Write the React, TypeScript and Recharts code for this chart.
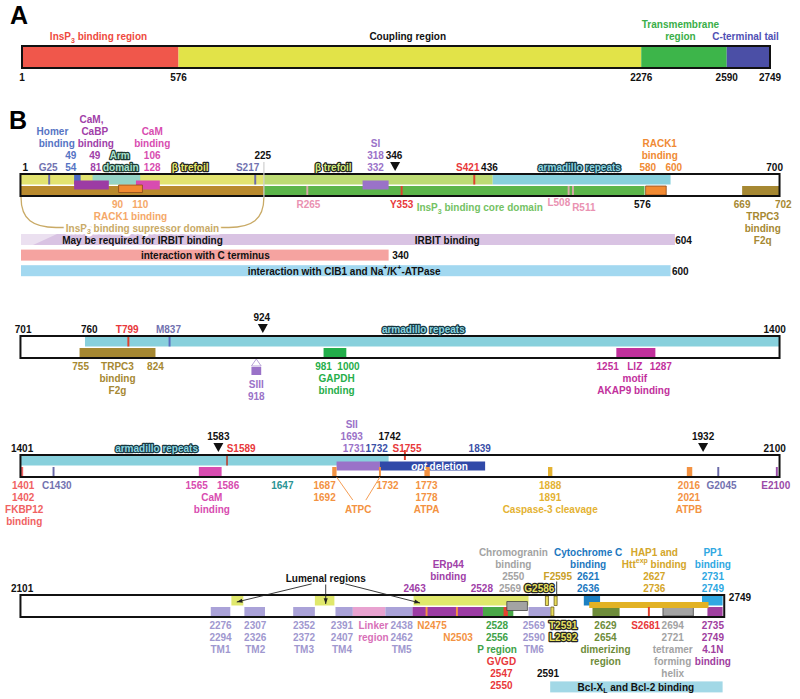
import React from "react";
import {
  ComposedChart,
  XAxis,
  YAxis,
  Scatter,
  ReferenceArea,
  ReferenceLine,
} from "recharts";

const W = 800;
const H = 699;
const FONT = "'Liberation Sans', Arial, Helvetica, sans-serif";

// ---------- panel A: overview, residue numbers ----------
const panelASegments = [
  { from: 1, to: 576, kind: "aInsp3" },
  { from: 576, to: 2276, kind: "aCoupling" },
  { from: 2276, to: 2590, kind: "aTm" },
  { from: 2590, to: 2749, kind: "aCterm" },
];
const panelATicks = ["1", "576", "2276", "2590", "2749"];
const panelALabels = [
  { t: "InsP_{3} binding region", at: 282, line: -1.2, k: "aRed" },
  { t: "Coupling region", at: 1418, line: -1.2, k: "black" },
  { t: "Transmembrane", at: 2420, line: -2.2, k: "aGreen" },
  { t: "region", at: 2420, line: -1.2, k: "aGreen" },
  { t: "C-terminal tail", at: 2659, line: -1.2, k: "aBlue" },
];

// ---------- panel B: four rows of the sequence ----------
const rowRanges = [
  { id: "r1", start: 1, end: 700 },
  { id: "r2", start: 701, end: 1400 },
  { id: "r3", start: 1401, end: 2100 },
  { id: "r4", start: 2101, end: 2749 },
];

const row1Blocks = [
  { from: 1, to: 225, track: "up", kind: "trefoil1" },
  { from: 225, to: 436, track: "up", kind: "trefoil2" },
  { from: 436, to: 600, track: "up", kind: "armadillo" },
  { from: 67, to: 111, track: "up", kind: "arm" },
  { from: 50, to: 56, track: "up", kind: "homer" },
  { from: 1, to: 225, track: "low", kind: "suppressor" },
  { from: 225, to: 576, track: "low", kind: "core" },
  { from: 577, to: 596, track: "low", kind: "rack" },
  { from: 666, to: 700, track: "low", kind: "trpc" },
  { from: 50, to: 82, track: "mid", kind: "cabp" },
  { from: 107, to: 129, track: "mid", kind: "cam" },
  { from: 316, to: 340, track: "mid", kind: "si" },
  { from: 91, to: 113, track: "midlow", kind: "rack" },
];
const row1Sites = [
  { at: 27, track: "up", kind: "site" },
  { at: 217, track: "up", kind: "site" },
  { at: 419, track: "up", kind: "phospho" },
  { at: 265, track: "low", kind: "pinkTick" },
  { at: 352, track: "low", kind: "phospho" },
  { at: 506, track: "low", kind: "pinkTick" },
  { at: 510, track: "low", kind: "pinkTick" },
];
const row1Bands = [
  { from: 1, to: 604, line: 4, kind: "irbit" },
  { from: 1, to: 340, line: 5.3, kind: "cterm" },
  { from: 1, to: 600, line: 6.6, kind: "cib" },
];
const row1Brackets = [{ from: 1, to: 225, line: 3 }];
const row1Labels = [
  { t: "1", at: 5, line: -1, k: "black" },
  { t: "G25", at: 26, line: -1, k: "site" },
  { t: "Homer", at: 30, line: -4, k: "homer" },
  { t: "binding", at: 34, line: -3, k: "homer" },
  { t: "49", at: 47, line: -2, k: "homer" },
  { t: "54", at: 47, line: -1, k: "homer" },
  { t: "CaM,", at: 66, line: -5, k: "cabp" },
  { t: "CaBP", at: 69, line: -4, k: "cabp" },
  { t: "binding", at: 70, line: -3, k: "cabp" },
  { t: "49", at: 69, line: -2, k: "cabp" },
  { t: "81", at: 70, line: -1, k: "cabp" },
  { t: "Arm", at: 92, line: -2, k: "olArm" },
  { t: "domain", at: 93, line: -1, k: "olArm" },
  { t: "CaM", at: 122, line: -4, k: "cam" },
  { t: "binding", at: 122, line: -3, k: "cam" },
  { t: "106", at: 122, line: -2, k: "cam" },
  { t: "128", at: 122, line: -1, k: "cam" },
  { t: "β trefoil", at: 157, line: -1, k: "olTrefoil" },
  { t: "S217", at: 210, line: -1, k: "site" },
  { t: "225", at: 224, line: -2, k: "black" },
  { t: "β trefoil", at: 289, line: -1, k: "olTrefoil2" },
  { t: "SI", at: 328, line: -3, k: "si" },
  { t: "318", at: 328, line: -2, k: "si" },
  { t: "332", at: 328, line: -1, k: "si" },
  { t: "346", at: 345, line: -2, k: "black" },
  { t: "S421", at: 413, line: -1, k: "red" },
  { t: "436", at: 433, line: -1, k: "black" },
  { t: "armadillo repeats", at: 516, line: -1, k: "olCyan" },
  { t: "RACK1", at: 590, line: -3, k: "rack" },
  { t: "binding", at: 590, line: -2, k: "rack" },
  { t: "580", at: 579, line: -1, k: "rack" },
  { t: "600", at: 603, line: -1, k: "rack" },
  { t: "700", at: 696, line: -1, k: "black" },
  { t: "90", at: 90, line: 1, k: "rackLight" },
  { t: "110", at: 111, line: 1, k: "rackLight" },
  { t: "RACK1 binding", at: 102, line: 2, k: "rackLight" },
  { t: "InsP_{3} binding supressor domain", at: 113, line: 3, k: "tan" },
  { t: "R265", at: 266, line: 1, k: "pink" },
  { t: "Y353", at: 352, line: 1, k: "red" },
  { t: "InsP_{3} binding core domain", at: 424, line: 1.3, k: "core" },
  { t: "L508", at: 497, line: 0.9, k: "pink" },
  { t: "R511", at: 520, line: 1.3, k: "pink" },
  { t: "576", at: 574, line: 1, k: "black" },
  { t: "669", at: 666, line: 1, k: "trpc" },
  { t: "702", at: 704, line: 1, k: "trpc" },
  { t: "TRPC3", at: 685, line: 2, k: "trpc" },
  { t: "binding", at: 685, line: 3, k: "trpc" },
  { t: "F2q", at: 685, line: 4, k: "trpc" },
  { t: "May be required for IRBIT binding", at: 113, line: 4, k: "black" },
  { t: "IRBIT binding", at: 394, line: 4, k: "black" },
  { t: "604", at: 612, line: 4, k: "black" },
  { t: "interaction with C terminus", at: 171, line: 5.3, k: "black" },
  { t: "340", at: 351, line: 5.3, k: "black" },
  { t: "interaction with CIB1 and Na^{+}/K^{+}-ATPase", at: 299, line: 6.6, k: "black" },
  { t: "600", at: 609, line: 6.6, k: "black" },
];

const row2Blocks = [
  { from: 760, to: 1400, track: "up", kind: "armadillo" },
  { from: 755, to: 825, track: "low", kind: "trpc" },
  { from: 980, to: 1001, track: "low", kind: "gapdh" },
  { from: 1250, to: 1286, track: "low", kind: "liz" },
];
const row2Sites = [
  { at: 800, track: "up", kind: "phospho" },
  { at: 838, track: "up", kind: "siteBlue" },
  { at: 918, track: "pin", kind: "si" },
];
const row2Labels = [
  { t: "701", at: 703, line: -1, k: "black" },
  { t: "760", at: 764, line: -1, k: "black" },
  { t: "T799", at: 799, line: -1, k: "red" },
  { t: "M837", at: 837, line: -1, k: "site" },
  { t: "924", at: 923, line: -2, k: "black" },
  { t: "armadillo repeats", at: 1072, line: -1, k: "olCyan" },
  { t: "1400", at: 1396, line: -1, k: "black" },
  { t: "755", at: 756, line: 1, k: "trpc" },
  { t: "TRPC3", at: 790, line: 1, k: "trpc" },
  { t: "824", at: 825, line: 1, k: "trpc" },
  { t: "binding", at: 790, line: 2, k: "trpc" },
  { t: "F2g", at: 790, line: 3, k: "trpc" },
  { t: "SIII", at: 918, line: 2.5, k: "si" },
  { t: "918", at: 918, line: 3.5, k: "si" },
  { t: "981", at: 980, line: 1, k: "gapdh" },
  { t: "1000", at: 1003, line: 1, k: "gapdh" },
  { t: "GAPDH", at: 992, line: 2, k: "gapdh" },
  { t: "binding", at: 992, line: 3, k: "gapdh" },
  { t: "1251", at: 1242, line: 1, k: "liz" },
  { t: "LIZ", at: 1267, line: 1, k: "liz" },
  { t: "1287", at: 1291, line: 1, k: "liz" },
  { t: "motif", at: 1267, line: 2, k: "liz" },
  { t: "AKAP9 binding", at: 1266, line: 3, k: "liz" },
];

const row3Blocks = [
  { from: 1401, to: 1740, track: "up", kind: "armadillo" },
  { from: 1692, to: 1732, track: "mid", kind: "sii" },
  { from: 1732, to: 1829, track: "mid", kind: "opt" },
  { from: 1401, to: 1403, track: "low", kind: "fkbp" },
  { from: 1565, to: 1586, track: "low", kind: "cam" },
  { from: 1688, to: 1692, track: "low", kind: "atp" },
  { from: 1773, to: 1778, track: "low", kind: "atp" },
  { from: 1887, to: 1891, track: "low", kind: "casp" },
  { from: 2015, to: 2020, track: "low", kind: "atp" },
];
const row3Sites = [
  { at: 1591, track: "up", kind: "phosphoDark" },
  { at: 1755, track: "top", kind: "phospho" },
  { at: 1431, track: "low", kind: "site" },
  { at: 1732, track: "low", kind: "atp" },
  { at: 2044, track: "low", kind: "site" },
  { at: 2098, track: "low", kind: "e2100" },
];
const row3Labels = [
  { t: "1401", at: 1402, line: -1, k: "black" },
  { t: "armadillo repeats", at: 1526, line: -1, k: "olCyan" },
  { t: "1583", at: 1583, line: -2, k: "black" },
  { t: "S1589", at: 1604, line: -1, k: "red" },
  { t: "SII", at: 1706, line: -3, k: "si" },
  { t: "1693", at: 1706, line: -2, k: "si" },
  { t: "1731", at: 1708, line: -1, k: "si" },
  { t: "1732", at: 1729, line: -1, k: "optBlue" },
  { t: "1742", at: 1741, line: -2, k: "black" },
  { t: "S1755", at: 1757, line: -1, k: "red" },
  { t: "1839", at: 1824, line: -1, k: "optBlue" },
  { t: "1932", at: 2030, line: -2, k: "black" },
  { t: "2100", at: 2096, line: -1, k: "black" },
  { t: "~{opt} deletion", at: 1787, line: 0, k: "white" },
  { t: "1401", at: 1403, line: 1, k: "fkbp" },
  { t: "1402", at: 1403, line: 2, k: "fkbp" },
  { t: "FKBP12", at: 1404, line: 3, k: "fkbp" },
  { t: "binding", at: 1404, line: 4, k: "fkbp" },
  { t: "C1430", at: 1434, line: 1, k: "site" },
  { t: "1565", at: 1563, line: 1, k: "cam" },
  { t: "1586", at: 1592, line: 1, k: "cam" },
  { t: "CaM", at: 1577, line: 2, k: "cam" },
  { t: "binding", at: 1577, line: 3, k: "cam" },
  { t: "1647", at: 1642, line: 1, k: "teal" },
  { t: "1687", at: 1681, line: 1, k: "atp" },
  { t: "1692", at: 1681, line: 2, k: "atp" },
  { t: "1732", at: 1739, line: 1, k: "atp" },
  { t: "ATPC", at: 1712, line: 3, k: "atp" },
  { t: "1773", at: 1775, line: 1, k: "atp" },
  { t: "1778", at: 1775, line: 2, k: "atp" },
  { t: "ATPA", at: 1775, line: 3, k: "atp" },
  { t: "1888", at: 1889, line: 1, k: "casp" },
  { t: "1891", at: 1889, line: 2, k: "casp" },
  { t: "Caspase-3 cleavage", at: 1889, line: 3, k: "casp" },
  { t: "2016", at: 2017, line: 1, k: "atp" },
  { t: "2021", at: 2017, line: 2, k: "atp" },
  { t: "ATPB", at: 2017, line: 3, k: "atp" },
  { t: "G2045", at: 2047, line: 1, k: "site" },
  { t: "E2100", at: 2097, line: 1, k: "e2100" },
];

const row4Blocks = [
  { from: 2295, to: 2306, track: "up", kind: "lumen" },
  { from: 2372, to: 2390, track: "up", kind: "lumen" },
  { from: 2463, to: 2569, track: "up", kind: "lumen" },
  { from: 2276, to: 2294, track: "low", kind: "tm" },
  { from: 2307, to: 2326, track: "low", kind: "tm" },
  { from: 2352, to: 2372, track: "low", kind: "tm" },
  { from: 2391, to: 2407, track: "low", kind: "tm" },
  { from: 2407, to: 2437, track: "low", kind: "linker" },
  { from: 2437, to: 2462, track: "low", kind: "tm" },
  { from: 2462, to: 2527, track: "low", kind: "erp" },
  { from: 2527, to: 2555, track: "low", kind: "preg" },
  { from: 2546, to: 2550, track: "low", kind: "gvgd" },
  { from: 2569, to: 2589, track: "low", kind: "tm" },
  { from: 2620, to: 2635, track: "up", kind: "cytc" },
  { from: 2729, to: 2748, track: "up", kind: "pp1" },
  { from: 2628, to: 2653, track: "low", kind: "dimer" },
  { from: 2693, to: 2721, track: "low", kind: "tetramer" },
  { from: 2734, to: 2748, track: "low", kind: "n41" },
  { from: 2625, to: 2735, track: "band", kind: "hap" },
  { from: 2549, to: 2568, track: "mid", kind: "chromo" },
];
const row4Sites = [
  { at: 2475, track: "low", kind: "atp" },
  { at: 2503, track: "low", kind: "atp" },
  { at: 2680, track: "low", kind: "phospho" },
  { at: 2586, track: "up", kind: "yellowTick" },
  { at: 2594, track: "up", kind: "yellowTick" },
  { at: 2591, track: "low", kind: "yellowTick" },
];
const row4Bands = [{ from: 2589, to: 2748, line: 6.2, kind: "bcl" }];
const row4Labels = [
  { t: "2101", at: 2102, line: -1, k: "black" },
  { t: "Lumenal regions", at: 2382, line: -1.8, k: "black" },
  { t: "ERp44", at: 2495, line: -3, k: "erp" },
  { t: "binding", at: 2495, line: -2, k: "erp" },
  { t: "2463", at: 2464, line: -1, k: "erp" },
  { t: "2528", at: 2526, line: -1, k: "erp" },
  { t: "Chromogranin", at: 2555, line: -4, k: "chromo" },
  { t: "binding", at: 2555, line: -3, k: "chromo" },
  { t: "2550", at: 2555, line: -2, k: "chromo" },
  { t: "2569", at: 2552, line: -1, k: "chromo" },
  { t: "G2586", at: 2579, line: -1, k: "olYellow" },
  { t: "F2595", at: 2596, line: -2, k: "gold" },
  { t: "Cytochrome C", at: 2624, line: -4, k: "cytc" },
  { t: "binding", at: 2624, line: -3, k: "cytc" },
  { t: "2621", at: 2624, line: -2, k: "cytc" },
  { t: "2636", at: 2624, line: -1, k: "cytc" },
  { t: "HAP1 and", at: 2685, line: -4, k: "hap" },
  { t: "Htt^{exp} binding", at: 2685, line: -3, k: "hap" },
  { t: "2627", at: 2685, line: -2, k: "hap" },
  { t: "2736", at: 2685, line: -1, k: "hap" },
  { t: "PP1", at: 2739, line: -4, k: "pp1" },
  { t: "binding", at: 2739, line: -3, k: "pp1" },
  { t: "2731", at: 2739, line: -2, k: "pp1" },
  { t: "2749", at: 2739, line: -1, k: "pp1" },
  { t: "2749", at: 2764, line: -0.2, k: "black" },
  { t: "2276", at: 2285, line: 1, k: "tm" },
  { t: "2294", at: 2285, line: 2, k: "tm" },
  { t: "TM1", at: 2285, line: 3, k: "tm" },
  { t: "2307", at: 2317, line: 1, k: "tm" },
  { t: "2326", at: 2317, line: 2, k: "tm" },
  { t: "TM2", at: 2317, line: 3, k: "tm" },
  { t: "2352", at: 2362, line: 1, k: "tm" },
  { t: "2372", at: 2362, line: 2, k: "tm" },
  { t: "TM3", at: 2362, line: 3, k: "tm" },
  { t: "2391", at: 2397, line: 1, k: "tm" },
  { t: "2407", at: 2397, line: 2, k: "tm" },
  { t: "TM4", at: 2397, line: 3, k: "tm" },
  { t: "Linker", at: 2426, line: 1, k: "linker" },
  { t: "region", at: 2426, line: 2, k: "linker" },
  { t: "2438", at: 2452, line: 1, k: "tm" },
  { t: "2462", at: 2452, line: 2, k: "tm" },
  { t: "TM5", at: 2452, line: 3, k: "tm" },
  { t: "N2475", at: 2480, line: 1, k: "atp" },
  { t: "N2503", at: 2504, line: 2, k: "atp" },
  { t: "2528", at: 2540, line: 1, k: "preg" },
  { t: "2556", at: 2540, line: 2, k: "preg" },
  { t: "P region", at: 2540, line: 3, k: "preg" },
  { t: "GVGD", at: 2544, line: 4, k: "red" },
  { t: "2547", at: 2544, line: 5, k: "red" },
  { t: "2550", at: 2544, line: 6, k: "red" },
  { t: "2569", at: 2574, line: 1, k: "tm" },
  { t: "2590", at: 2574, line: 2, k: "tm" },
  { t: "TM6", at: 2574, line: 3, k: "tm" },
  { t: "T2591", at: 2601, line: 1, k: "olYellow" },
  { t: "L2592", at: 2601, line: 2, k: "olYellow" },
  { t: "2629", at: 2640, line: 1, k: "dimer" },
  { t: "2654", at: 2640, line: 2, k: "dimer" },
  { t: "dimerizing", at: 2640, line: 3, k: "dimer" },
  { t: "region", at: 2640, line: 4, k: "dimer" },
  { t: "S2681", at: 2677, line: 1, k: "red" },
  { t: "2694", at: 2702, line: 1, k: "chromo" },
  { t: "2721", at: 2702, line: 2, k: "chromo" },
  { t: "tetramer", at: 2702, line: 3, k: "chromo" },
  { t: "forming", at: 2702, line: 4, k: "chromo" },
  { t: "helix", at: 2702, line: 5, k: "chromo" },
  { t: "2735", at: 2739, line: 1, k: "n41" },
  { t: "2749", at: 2739, line: 2, k: "n41" },
  { t: "4.1N", at: 2739, line: 3, k: "n41" },
  { t: "binding", at: 2739, line: 4, k: "n41" },
  { t: "2591", at: 2587, line: 5, k: "black" },
  { t: "Bcl-X_{L} and Bcl-2 binding", at: 2668, line: 6.2, k: "black" },
];

// downward arrowheads (drawn where the picture has them)
const markers = [
  { row: "r1", at: 346 },
  { row: "r2", at: 924 },
  { row: "r3", at: 1583 },
  { row: "r3", at: 2030 },
];
// lines: l = text line, b = offset from bar top
const connectors = [
  { row: "r1", x1: 225, b1: -12, x2: 225, b2: 24, kind: "sep" },
  { row: "r3", x1: 1692, b1: 22, x2: 1707, l2: 2.3, kind: "atp" },
  { row: "r3", x1: 1732, b1: 22, x2: 1719, l2: 2.3, kind: "atp" },
  { row: "r4", x1: 2369, l1: -1.3, x2: 2300, b2: 7, kind: "arrow" },
  { row: "r4", x1: 2382, l1: -1.25, x2: 2382, b2: 9, kind: "arrow" },
  { row: "r4", x1: 2400, l1: -1.3, x2: 2469, b2: 8, kind: "arrow" },
  { row: "r4", x1: 2595, l1: -1.5, x2: 2595, b2: 1, kind: "plain" },
];

// ---------- styling ----------
const FILL: Record<string, string> = {
  aInsp3: "#f0574b", aCoupling: "#e2e348", aTm: "#3db54a", aCterm: "#4b4fa6",
  trefoil1: "#e2e370", trefoil2: "#bcdb74", armadillo: "#88d0dc", arm: "#95d4c6",
  homer: "#4d6cc4", suppressor: "#b98a2e", core: "#5cb54a", rack: "#f28a32",
  trpc: "#a68832", cabp: "#9c3ca4", cam: "#d84cb0", si: "#9a72c8", sii: "#9a72c8",
  site: "#6a6aa8", siteBlue: "#5a6ac0", phospho: "#e0402e", phosphoDark: "#b0584a",
  pinkTick: "#d8a8a8", gapdh: "#22ae4a", liz: "#c2309c", opt: "#3049a8",
  fkbp: "#f06262", atp: "#f39242", casp: "#e4b232", e2100: "#9a4aa8",
  lumen: "#e0e86c", tm: "#aaa2d8", linker: "#e8a2d0", erp: "#9c3ca4",
  preg: "#4aa848", gvgd: "#e84030", cytc: "#1c80c2", pp1: "#30a8e2",
  hap: "#e2b224", dimer: "#6e8c3a", tetramer: "#a3a3a3", n41: "#a040a0",
  chromo: "#a3a3a3", yellowTick: "#e8dc5a",
  irbit: "#d9c3e3", cterm: "#f5a3a0", cib: "#a2d8f0", bcl: "#a2d8e6",
};
const BORDER: Record<string, string> = {
  rack: "#8a4a1a", tetramer: "#444", chromo: "#444", yellowTick: "#5a4a10",
};
const TEXT: Record<string, any> = {
  black: { fill: "#111" },
  red: { fill: "#e8383a" },
  aRed: { fill: "#ee4a40" },
  aGreen: { fill: "#3aae48" },
  aBlue: { fill: "#5050b4" },
  homer: { fill: "#5674c4" },
  cabp: { fill: "#a040a8" },
  cam: { fill: "#d84cb0" },
  si: { fill: "#9a72c8" },
  rack: { fill: "#f08a34" },
  rackLight: { fill: "#f5a868" },
  site: { fill: "#7272b0" },
  tan: { fill: "#c9aa66", halo: true },
  pink: { fill: "#ea92b2" },
  core: { fill: "#74c264" },
  trpc: { fill: "#a68832" },
  gapdh: { fill: "#26ae4a" },
  liz: { fill: "#c2309c" },
  fkbp: { fill: "#f06262" },
  teal: { fill: "#2a9494" },
  atp: { fill: "#f39242" },
  casp: { fill: "#e4b232" },
  e2100: { fill: "#9a4aa8" },
  optBlue: { fill: "#3a50a8" },
  tm: { fill: "#9f98cf" },
  linker: { fill: "#d870b8" },
  erp: { fill: "#a040a8" },
  chromo: { fill: "#a3a3a3" },
  cytc: { fill: "#1c78c0" },
  hap: { fill: "#d4a62a" },
  pp1: { fill: "#30a8e2" },
  preg: { fill: "#3ea248" },
  dimer: { fill: "#6e8c3a" },
  n41: { fill: "#a040a0" },
  gold: { fill: "#c9a028" },
  white: { fill: "#fff" },
  olTrefoil: { fill: "#e6e86a", stroke: "#222" },
  olTrefoil2: { fill: "#d2ea7c", stroke: "#222" },
  olArm: { fill: "#a8e0cc", stroke: "#1f3b33" },
  olCyan: { fill: "#8ad4e0", stroke: "#173840" },
  olYellow: { fill: "#e8e060", stroke: "#222" },
};

const TOPS: Record<string, number> = { a: 46, r1: 174, r2: 336, r3: 455, r4: 595 };
const BAR_H = 22;
const TRACK: Record<string, [number, number]> = {
  full: [1, 21],
  up: [1, 10.5],
  low: [12, 21],
  mid: [6.5, 15.5],
  midlow: [11, 18.5],
  band: [7, 13],
  top: [-5, 5],
};

// axis windows: rows put residue `start` at x=21 and `start+699` at x=779
const ROW_PX_PER_RES = 758 / 699;
const rowDomain = (start: number): [number, number] => {
  const a0 = start - 21 / ROW_PX_PER_RES;
  return [a0, a0 + W / ROW_PX_PER_RES];
};
// panel A puts residue 1 at x=22 and 2749 at x=770
const A_PX_PER_RES = 748 / 2748;
const aDomain: [number, number] = [1 - 22 / A_PX_PER_RES, 1 - 22 / A_PX_PER_RES + W / A_PX_PER_RES];

const lineY = (top: number, line: number) =>
  line === 0
    ? top + BAR_H / 2
    : line < 0
    ? top - 7.5 + (line + 1) * 12
    : top + BAR_H + 7.5 + (line - 1) * 12;

function rich(s: string, fs: number) {
  const parts = s.split(/([_^~]\{[^}]*\})/).filter(Boolean);
  let shift = 0;
  return parts.map((p, i) => {
    const m = p.match(/^([_^~])\{(.*)\}$/);
    if (m && m[1] !== "~") {
      const d = m[1] === "_" ? fs * 0.35 : -fs * 0.4;
      const el = (
        <tspan key={i} dy={d - shift} fontSize={fs * 0.7}>
          {m[2]}
        </tspan>
      );
      shift = d;
      return el;
    }
    const el = (
      <tspan key={i} dy={-shift} fontStyle={m ? "italic" : undefined}>
        {m ? m[2] : p}
      </tspan>
    );
    shift = 0;
    return el;
  });
}

// scatter point renderer: each label is one point placed by the axes
const TextPoint = (p: any) => {
  const d = p.payload || {};
  const st = TEXT[d.k] || TEXT.black;
  if (p.cx == null || p.cy == null) return <g />;
  return (
    <text
      x={p.cx}
      y={p.cy}
      textAnchor="middle"
      dominantBaseline="central"
      fontFamily={FONT}
      fontSize={10}
      fontWeight={700}
      fill={st.fill}
      stroke={st.stroke ? st.stroke : st.halo ? "#fff" : "none"}
      strokeWidth={st.stroke ? 2.4 : st.halo ? 5 : 0}
      strokeLinejoin="round"
      paintOrder="stroke"
    >
      {rich(String(d.t), 10)}
    </text>
  );
};

const TriPoint = (p: any) =>
  p.cx == null ? (
    <g />
  ) : (
    <path d={`M${p.cx - 5},${p.cy - 4.5} L${p.cx + 5},${p.cy - 4.5} L${p.cx},${p.cy + 4.5} Z`} fill="#111" />
  );

const area = (k: string, axis: string, x1: number, x2: number, y1: number, y2: number, fill: string, stroke?: string, sw = 0.8) => (
  <ReferenceArea
    key={k}
    xAxisId={axis}
    x1={x1}
    x2={x2}
    y1={y1}
    y2={y2}
    fill={fill}
    fillOpacity={1}
    stroke={stroke || "none"}
    strokeWidth={stroke ? sw : 0}
    ifOverflow="visible"
  />
);

const bandShape = (kind: string) => (p: any) => (
  <g>
    <rect x={p.x} y={p.y} width={p.width} height={p.height} fill={FILL[kind]} />
    {kind === "irbit" && (
      <polygon
        points={`${p.x},${p.y} ${p.x + 36},${p.y} ${p.x + 12},${p.y + p.height} ${p.x},${p.y + p.height}`}
        fill="#ebe0f0"
      />
    )}
  </g>
);

const bracketShape = (p: any) => {
  const { x, y, width: w, height: h } = p;
  const r = h * 1.15;
  return (
    <path
      d={`M${x},${y} C${x},${y + h * 0.75} ${x + r * 0.35},${y + h} ${x + r},${y + h} L${x + w - r},${y + h} C${x + w - r * 0.35},${y + h} ${x + w},${y + h * 0.75} ${x + w},${y}`}
      fill="none"
      stroke="#c9aa66"
      strokeWidth={1.3}
    />
  );
};

const pinShape = (p: any) => {
  const { x, y, width: w } = p;
  const cx = x + w / 2;
  return (
    <g>
      <polygon points={`${cx},${y + 1} ${x},${y + 8} ${x + w},${y + 8}`} fill="#fff" stroke="#b9a2d8" strokeWidth={1} />
      <rect x={x} y={y + 9} width={w} height={8} fill={FILL.si} />
    </g>
  );
};

const lineShape = (kind: string) => (p: any) => {
  const color = kind === "atp" ? FILL.atp : kind === "sep" ? "#cfcfcf" : "#222";
  const { x1, y1, x2, y2 } = p;
  const ang = Math.atan2(y2 - y1, x2 - x1);
  const a = 6;
  const head =
    kind === "arrow"
      ? `M${x2},${y2} L${x2 - a * Math.cos(ang - 0.35)},${y2 - a * Math.sin(ang - 0.35)} L${x2 - a * Math.cos(ang + 0.35)},${y2 - a * Math.sin(ang + 0.35)} Z`
      : null;
  return (
    <g>
      <line x1={x1} y1={y1} x2={x2} y2={y2} stroke={color} strokeWidth={kind === "sep" ? 1.2 : 0.9} />
      {head && <path d={head} fill="#222" />}
    </g>
  );
};

const ROWS: Record<string, any> = {
  r1: { blocks: row1Blocks, sites: row1Sites, labels: row1Labels, bands: row1Bands },
  r2: { blocks: row2Blocks, sites: row2Sites, labels: row2Labels, bands: [] },
  r3: { blocks: row3Blocks, sites: row3Sites, labels: row3Labels, bands: [] },
  r4: { blocks: row4Blocks, sites: row4Sites, labels: row4Labels, bands: row4Bands },
};

export default function App() {
  const shapes: React.ReactNode[] = [];
  const lines: React.ReactNode[] = [];
  let n = 0;
  const key = () => "k" + n++;

  // panel A
  const tA = TOPS.a;
  panelASegments.forEach((s) => shapes.push(area(key(), "a", s.from, s.to, tA + 1, tA + BAR_H - 1, FILL[s.kind])));
  shapes.push(area(key(), "a", 1, 2749, tA, tA + BAR_H, "none", "#111", 2));
  const aPoints = [
    ...panelALabels.map((l) => ({ x: l.at, y: lineY(tA, l.line), t: l.t, k: l.k })),
    ...panelATicks.map((t) => ({ x: Number(t), y: lineY(tA, 1.1), t, k: "black" })),
  ];

  // panel B rows
  rowRanges.forEach((r) => {
    const top = TOPS[r.id];
    const d = ROWS[r.id];
    d.bands.forEach((b: any) => {
      const yc = lineY(top, b.line);
      shapes.push(
        <ReferenceArea key={key()} xAxisId={r.id} x1={b.from} x2={b.to} y1={yc - 5.5} y2={yc + 5.5} ifOverflow="visible" shape={bandShape(b.kind)} />
      );
    });
    if (r.id === "r1") {
      row1Brackets.forEach((b) =>
        shapes.push(
          <ReferenceArea key={key()} xAxisId={r.id} x1={b.from} x2={b.to} y1={top + BAR_H + 1} y2={lineY(top, b.line)} ifOverflow="visible" shape={bracketShape} />
        )
      );
    }
    d.blocks.forEach((b: any) => {
      const [a1, a2] = TRACK[b.track];
      shapes.push(area(key(), r.id, b.from, b.to, top + a1, top + a2, FILL[b.kind], BORDER[b.kind]));
    });
    d.sites.forEach((s: any) => {
      if (s.track === "pin") {
        shapes.push(
          <ReferenceArea key={key()} xAxisId={r.id} x1={s.at - 4.5} x2={s.at + 4.5} y1={top + BAR_H} y2={top + BAR_H + 17} ifOverflow="visible" shape={pinShape} />
        );
        return;
      }
      const [a1, a2] = TRACK[s.track];
      const half = s.kind === "yellowTick" ? 1.4 : 0.9;
      shapes.push(area(key(), r.id, s.at - half, s.at + half, top + a1, top + a2, FILL[s.kind], BORDER[s.kind], 0.7));
    });
    shapes.push(area(key(), r.id, r.start - 0.5, r.end + 0.5, top, top + BAR_H, "none", "#111", 2));
  });

  connectors.forEach((c: any) => {
    const top = TOPS[c.row];
    const y1 = c.l1 !== undefined ? lineY(top, c.l1) : top + c.b1;
    const y2 = c.l2 !== undefined ? lineY(top, c.l2) : top + c.b2;
    lines.push(
      <ReferenceLine
        key={key()}
        xAxisId={c.row}
        segment={[{ x: c.x1, y: y1 }, { x: c.x2, y: y2 }]}
        ifOverflow="visible"
        shape={lineShape(c.kind)}
      />
    );
  });

  const rowPoints = (id: string) =>
    ROWS[id].labels.map((l: any) => ({ x: l.at, y: lineY(TOPS[id], l.line), t: l.t, k: l.k }));
  const markerPoints = (id: string) =>
    markers.filter((m) => m.row === id).map((m) => ({ x: m.at, y: lineY(TOPS[id], -1) }));

  return (
    <div style={{ position: "absolute", left: 0, top: 0, width: W, height: H, background: "#fff" }}>
      <ComposedChart width={W} height={H} margin={{ top: 0, right: 0, bottom: 0, left: 0 }}>
        <XAxis xAxisId="a" dataKey="x" type="number" domain={aDomain} hide allowDataOverflow />
        {rowRanges.map((r) => (
          <XAxis key={r.id} xAxisId={r.id} dataKey="x" type="number" domain={rowDomain(r.start)} hide allowDataOverflow />
        ))}
        <YAxis dataKey="y" type="number" domain={[0, H]} reversed hide allowDataOverflow />
        {shapes}
        {lines}
        <Scatter xAxisId="a" data={aPoints} dataKey="y" shape={TextPoint} isAnimationActive={false} />
        {rowRanges.map((r) => (
          <Scatter key={"m" + r.id} xAxisId={r.id} data={markerPoints(r.id)} dataKey="y" shape={TriPoint} isAnimationActive={false} />
        ))}
        {rowRanges.map((r) => (
          <Scatter key={"t" + r.id} xAxisId={r.id} data={rowPoints(r.id)} dataKey="y" shape={TextPoint} isAnimationActive={false} />
        ))}
      </ComposedChart>
      <div style={{ position: "absolute", left: 10, top: 3, fontFamily: FONT, fontWeight: 700, fontSize: 25, lineHeight: "25px" }}>A</div>
      <div style={{ position: "absolute", left: 9, top: 108, fontFamily: FONT, fontWeight: 700, fontSize: 25, lineHeight: "25px" }}>B</div>
    </div>
  );
}
